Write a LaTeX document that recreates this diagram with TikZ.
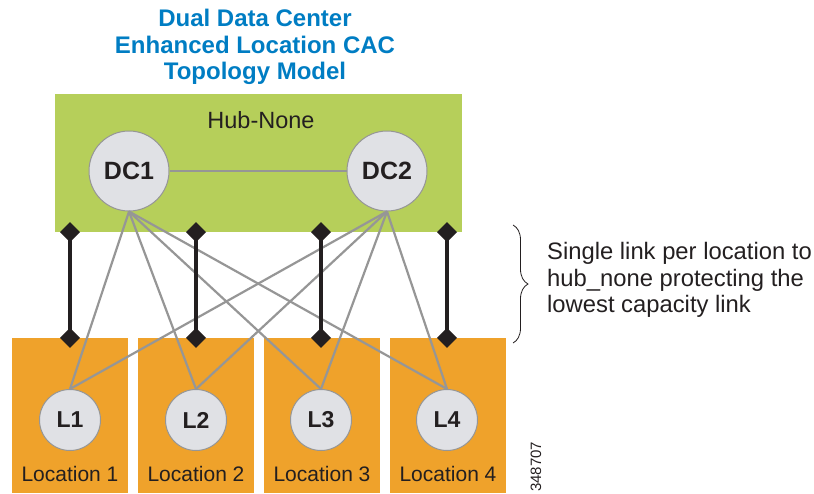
\documentclass[tikz,border=0pt]{standalone}
\usepackage{fontspec}
\setmainfont{Liberation Sans}
\usetikzlibrary{positioning, arrows.meta, decorations.pathreplacing}
\definecolor{titleblue}{RGB}{0,125,195}
\definecolor{hubgreen}{RGB}{182,207,90}
\definecolor{locorange}{RGB}{239,162,43}
\definecolor{sitegray}{RGB}{224,225,229}
\definecolor{wiregray}{RGB}{150,150,150}
\definecolor{inkblack}{RGB}{35,31,32}

\begin{document}
\begin{tikzpicture}[
		x=1pt, y=-1pt,
		hubbox/.style={rectangle, fill=hubgreen, minimum width=407pt, minimum height=138pt, inner sep=0pt},
		locbox/.style={rectangle, fill=locorange, minimum width=116pt, minimum height=155pt, inner sep=0pt},
		dcsite/.style={circle, draw=wiregray, line width=1pt, fill=sitegray, minimum size=80pt, inner sep=0pt, font=\fontsize{25}{28}\selectfont\bfseries, text=inkblack},
		locsite/.style={circle, draw=wiregray, line width=1pt, fill=sitegray, minimum size=61pt, inner sep=0pt, font=\fontsize{23}{26}\selectfont\bfseries, text=inkblack},
		loclabel/.style={font=\fontsize{21}{24}\selectfont, text=inkblack, inner sep=0pt},
		wire/.style={draw=wiregray, line width=2.2pt},
		protect/.style={draw=inkblack, line width=4pt, {Diamond[length=20pt,width=20pt]}-{Diamond[length=20pt,width=20pt]}, shorten <=-10pt, shorten >=-10pt}
		]
		\useasboundingbox (0,0) rectangle (814,493);
		
		% Title
		\node (title) [align=center, text=titleblue, font=\fontsize{24}{26.5}\selectfont\bfseries] at (255,47) {Dual Data Center\\Enhanced Location CAC\\Topology Model};
		
		% Hub
		\node (hub) [hubbox] at (258.5,163) {};
		\node (hubname) [font=\fontsize{23.5}{26}\selectfont, text=inkblack, inner sep=0pt] at (261,120) {Hub-None};
		\node (dc1) [dcsite] at (129,171) {DC1};
		\node (dc2) [dcsite] at (387,171) {DC2};
		
		% Locations
		\node (loc1) [locbox] at (70,415.5) {};
		\node (loc2) [locbox] at (196,415.5) {};
		\node (loc3) [locbox] at (322,415.5) {};
		\node (loc4) [locbox] at (448,415.5) {};
		\node (l1) [locsite] at (70,420) {L1};
		\node (l2) [locsite] at (196,420) {L2};
		\node (l3) [locsite] at (321,420) {L3};
		\node (l4) [locsite] at (447,420) {L4};
		\node (name1) [loclabel] at (70,474) {Location 1};
		\node (name2) [loclabel] at (196,474) {Location 2};
		\node (name3) [loclabel] at (322,474) {Location 3};
		\node (name4) [loclabel] at (448,474) {Location 4};
		
		% Links
		\draw [wire] (dc1) -- (dc2);
		\draw [wire] (dc1.south) -- (l1.north);
		\draw [wire] (dc1.south) -- (l2.north);
		\draw [wire] (dc1.south) -- (l3.north);
		\draw [wire] (dc1.south) -- (l4.north);
		\draw [wire] (dc2.south) -- (l1.north);
		\draw [wire] (dc2.south) -- (l2.north);
		\draw [wire] (dc2.south) -- (l3.north);
		\draw [wire] (dc2.south) -- (l4.north);
		\draw [protect] (loc1.north |- hub.south) -- (loc1.north);
		\draw [protect] (loc2.north |- hub.south) -- (loc2.north);
		\draw [protect] (l3.north |- hub.south) -- (l3.north |- loc3.north);
		\draw [protect] (l4.north |- hub.south) -- (l4.north |- loc4.north);
		
		% Note
		\coordinate (bracetop) at (513,225);
		\coordinate (bracebot) at (513,343);
		\draw [inkblack, line width=0.8pt, decorate, decoration={brace, amplitude=15pt}] (bracetop) -- (bracebot);
		\node (note) [anchor=west, align=left, text=inkblack, inner sep=0pt, font=\fontsize{23.8}{26.5}\selectfont] at (547,280) {Single link per location to\\hub\_none protecting the\\lowest capacity link};
		\node (figno) [anchor=west, rotate=90, inner sep=0pt, text=inkblack, font=\fontsize{15}{18}\selectfont] at (536,492) {348707};
		
	\end{tikzpicture}
\end{document}
